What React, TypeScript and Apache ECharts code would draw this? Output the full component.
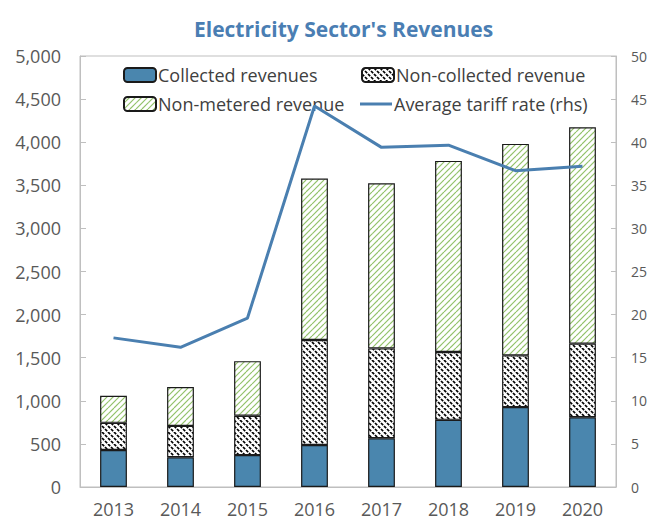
import React, { useEffect, useRef } from "react";
import * as echarts from "echarts";

const years = ["2013", "2014", "2015", "2016", "2017", "2018", "2019", "2020"];
const collected = [430, 345, 370, 488, 566, 779, 927, 810];
const nonCollected = [314, 364, 456, 1218, 1042, 787, 600, 853];
const nonMetered = [314, 450, 634, 1872, 1915, 2217, 2453, 2511];
const tariff = [17.3, 16.2, 19.6, 44.2, 39.4, 39.65, 36.7, 37.2];

function makePattern(kind: "black" | "green"): HTMLCanvasElement {
  const c = document.createElement("canvas");
  const s = 12;
  c.width = s;
  c.height = s;
  const ctx = c.getContext("2d")!;
  ctx.fillStyle = "#ffffff";
  ctx.fillRect(0, 0, s, s);
  ctx.strokeStyle = kind === "black" ? "#000000" : "#92c26a";
  ctx.lineWidth = kind === "black" ? 1.7 : 1.2;
  const seg = (s * Math.SQRT2) / 4;
  if (kind === "black") ctx.setLineDash([seg * 0.72, seg * 0.28]);
  for (let k = -s; k <= 2 * s; k += 6) {
    ctx.beginPath();
    if (kind === "black") {
      ctx.moveTo(k, 0);
      ctx.lineTo(k + s, s);
    } else {
      ctx.moveTo(k, 0);
      ctx.lineTo(k - s, s);
    }
    ctx.stroke();
  }
  return c;
}

export default function App() {
  const ref = useRef<HTMLDivElement>(null);
  useEffect(() => {
    if (!ref.current) return;
    const chart = echarts.init(ref.current, undefined, { renderer: "svg" });
    const blackPat = { image: makePattern("black"), repeat: "repeat" };
    const greenPat = { image: makePattern("green"), repeat: "repeat" };
    const font = "'Open Sans', 'Noto Sans', sans-serif";
    const legendText = { fontFamily: font, fontSize: 18, color: "#404040" };
    const mkLegend = (name: string, left: number, top: number, line = false) => ({
      data: [line ? { name, icon: "rect" } : name],
      left,
      top,
      itemWidth: 32,
      itemHeight: line ? 3 : 14,
      itemGap: 0,
      padding: 0,
      textStyle: { ...legendText, padding: [0, 0, 0, -3] },
      selectedMode: false,
    });
    chart.setOption({
      animation: false,
      backgroundColor: "#ffffff",
      title: {
        text: "Electricity Sector's Revenues",
        left: 189,
        top: 13,
        textStyle: { fontFamily: font, fontSize: 21, fontWeight: "bold", color: "#4a7eb3" },
      },
      legend: [
        mkLegend("Collected revenues", 123, 66),
        mkLegend("Non-collected revenue", 361, 66),
        mkLegend("Non-metered revenue", 123, 95),
        mkLegend("Average tariff rate (rhs)", 360, 95, true),
      ],
      grid: { left: 80, right: 30, top: 56, bottom: 36, show: true, borderColor: "#bfbfbf", borderWidth: 1 },
      xAxis: {
        type: "category",
        data: years,
        axisLine: { lineStyle: { color: "#bfbfbf" } },
        axisTick: { inside: true, length: 6, lineStyle: { color: "#bfbfbf" } },
        axisLabel: { fontFamily: font, fontSize: 18, color: "#595959", margin: 13 },
      },
      yAxis: [
        {
          type: "value",
          min: 0,
          max: 5000,
          interval: 500,
          splitLine: { show: false },
          axisLine: { show: true, lineStyle: { color: "#bfbfbf" } },
          axisTick: { show: true, inside: true, length: 6, lineStyle: { color: "#bfbfbf" } },
          axisLabel: {
            fontFamily: font,
            fontSize: 18,
            color: "#595959",
            margin: 19,
            formatter: (v: number) => v.toLocaleString("en-US"),
          },
        },
        {
          type: "value",
          min: 0,
          max: 50,
          interval: 5,
          splitLine: { show: false },
          axisLine: { show: true, lineStyle: { color: "#bfbfbf" } },
          axisTick: { show: true, inside: true, length: 5, lineStyle: { color: "#bfbfbf" } },
          axisLabel: { fontFamily: font, fontSize: 14, color: "#595959", margin: 15 },
        },
      ],
      series: [
        {
          name: "Collected revenues",
          type: "bar",
          stack: "rev",
          barWidth: "40%",
          data: collected,
          itemStyle: { color: "#4a86ae", borderColor: "#1a1a1a", borderWidth: 1.2 },
        },
        {
          name: "Non-collected revenue",
          type: "bar",
          stack: "rev",
          data: nonCollected,
          itemStyle: { color: blackPat, borderColor: "#1a1a1a", borderWidth: 1.2 },
        },
        {
          name: "Non-metered revenue",
          type: "bar",
          stack: "rev",
          data: nonMetered,
          itemStyle: { color: greenPat, borderColor: "#1a1a1a", borderWidth: 1.2 },
        },
        {
          name: "Average tariff rate (rhs)",
          type: "line",
          yAxisIndex: 1,
          data: tariff,
          symbol: "none",
          showSymbol: false,
          z: 10,
          lineStyle: { color: "#4a7fb0", width: 3 },
          itemStyle: { color: "#4a7fb0" },
        },
      ],
    });
    return () => chart.dispose();
  }, []);
  return <div ref={ref} style={{ width: 650, height: 523, position: "absolute", left: 0, top: 0 }} />;
}
